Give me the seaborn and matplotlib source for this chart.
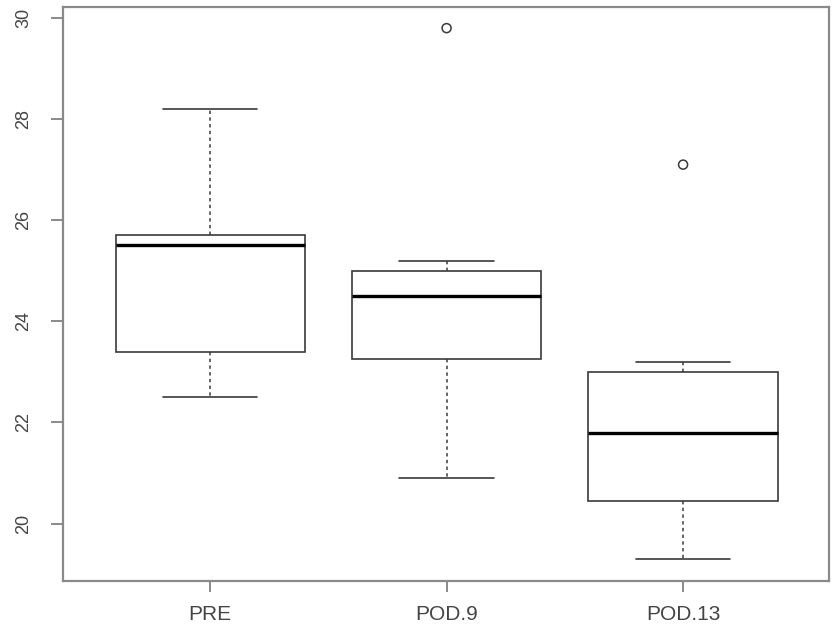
import matplotlib
matplotlib.use("Agg")
import matplotlib.pyplot as plt
import numpy as np
import pandas as pd
import seaborn as sns

# ---- data (five-number summaries per group) ----
groups = ["PRE", "POD.9", "POD.13"]
whisker_low = [22.5, 20.9, 19.3]
box_low = [23.4, 23.25, 20.45]
medians = [25.5, 24.5, 21.8]
box_high = [25.7, 25.0, 23.0]
whisker_high = [28.2, 25.2, 23.2]
outlier_groups = ["POD.9", "POD.13"]
outlier_values = [29.8, 27.1]
yticks = [20, 22, 24, 26, 28, 30]

rows = []
for g, a, b, c, d, e in zip(groups, whisker_low, box_low, medians, box_high, whisker_high):
    for v in (a, b, c, d, e):
        rows.append({"group": g, "value": v})
df = pd.DataFrame(rows)
out_df = pd.DataFrame({"group": outlier_groups, "value": outlier_values})

sns.set_theme(style="white")
plt.rcParams["font.family"] = ["Liberation Sans", "DejaVu Sans"]

fig = plt.figure(figsize=(8.32, 6.37), dpi=100)
ax = fig.add_axes([63 / 832, (637 - 581) / 637, 766 / 832, 574 / 637])

edge = "#3a3a3a"
sns.boxplot(
    data=df, x="group", y="value", order=groups, ax=ax,
    whis=(0, 100), width=0.8, color="white", linecolor=edge, linewidth=1.2,
    boxprops=dict(facecolor="white", edgecolor=edge, linewidth=1.2),
    medianprops=dict(color="black", linewidth=2.4),
    whiskerprops=dict(color=edge, linestyle=(0, (2.2, 2.2)), linewidth=1.1),
    capprops=dict(color=edge, linewidth=1.2),
    showfliers=False,
)
sns.stripplot(
    data=out_df, x="group", y="value", order=groups, ax=ax,
    jitter=False, marker="o", size=6.5, color="white", linewidth=1.1,
    edgecolor=edge,
)
for coll in ax.collections:
    coll.set_facecolor("none")
    coll.set_edgecolor(edge)
    coll.set_linewidth(1.1)

ax.set_xlim(-0.622, 2.617)
ax.set_ylim(18.863, 30.218)
ax.set_yticks(yticks)
ax.set_yticklabels([str(t) for t in yticks], rotation=90, va="center")
ax.set_xlabel("")
ax.set_ylabel("")

for s in ax.spines.values():
    s.set_visible(True)
    s.set_color("#8a8a8a")
    s.set_linewidth(1.6)

ax.tick_params(axis="x", length=8, width=1.2, color="#777777", labelcolor="#444444",
               labelsize=15, pad=9, bottom=True)
ax.tick_params(axis="y", length=9, width=1.2, color="#777777", labelcolor="#444444",
               labelsize=13, pad=13, left=True)

fig.savefig("out.png", dpi=100)
